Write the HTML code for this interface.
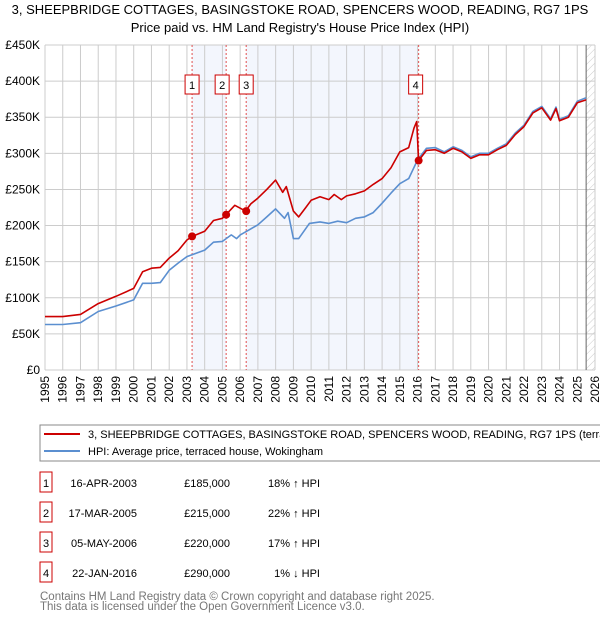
<!DOCTYPE html>
<html><head><meta charset="utf-8"><style>
body{margin:0;background:#fff}
svg{display:block;font-family:"Liberation Sans","DejaVu Sans",sans-serif}
</style></head><body>
<svg id="c" width="600" height="620" xmlns="http://www.w3.org/2000/svg">
<text x="300" y="14" text-anchor="middle" font-size="13">3, SHEEPBRIDGE COTTAGES, BASINGSTOKE ROAD, SPENCERS WOOD, READING, RG7 1PS</text>
<text x="300" y="32" text-anchor="middle" font-size="13">Price paid vs. HM Land Registry's House Price Index (HPI)</text>
<defs><pattern id="hatch" width="5" height="5" patternUnits="userSpaceOnUse" patternTransform="rotate(45)"><line x1="0" y1="0" x2="0" y2="5" stroke="#ccc" stroke-width="1"/></pattern></defs>
<g id="plot"></g>
<rect x="40" y="425" width="565" height="36" fill="#fff" stroke="#888"/>
<line x1="44" y1="434" x2="80" y2="434" stroke="#cc0000" stroke-width="2"/>
<text x="88" y="438" font-size="11">3, SHEEPBRIDGE COTTAGES, BASINGSTOKE ROAD, SPENCERS WOOD, READING, RG7 1PS (terraced house)</text>
<line x1="44" y1="451" x2="80" y2="451" stroke="#5b8fd0" stroke-width="2"/>
<text x="88" y="455" font-size="11">HPI: Average price, terraced house, Wokingham</text>
<g id="tbl" font-size="11"></g>
<text x="40" y="600" font-size="11.5" fill="#777">Contains HM Land Registry data © Crown copyright and database right 2025.</text>
<text x="40" y="610" font-size="11.5" fill="#777">This data is licensed under the Open Government Licence v3.0.</text>
</svg>
<script>
const hpiYears=[1995,1996,1997,1998,1999,2000,2000.5,2001,2001.5,2002,2002.5,2003,2003.5,2004,2004.5,2005,2005.5,2005.8,2006,2006.5,2007,2007.5,2008,2008.5,2008.7,2009,2009.3,2009.9,2010.5,2011,2011.5,2012,2012.5,2013,2013.5,2014,2014.5,2015,2015.5,2016,2016.5,2017,2017.5,2018,2018.5,2019,2019.5,2020,2020.5,2021,2021.5,2022,2022.5,2023,2023.5,2023.8,2024,2024.5,2025,2025.5];
const hpiValues=[63,63,65.5,81,88.6,97,120,120,121,138,148,157,161.5,166,177,178,187,182,187,194,201,212,223,210,218,182,182,203,205,203,206,204,210,212,218,231,245,258,265,291,307,308,302,309,304,295,300,300,307,313,328,339,358,365,348,364,347,352,372,377];
const propYears=[1995,1996,1997,1998,1999,2000,2000.5,2001,2001.5,2002,2002.5,2003,2003.3,2004,2004.5,2005,2005.2,2005.7,2006,2006.3,2006.6,2007,2007.5,2008,2008.4,2008.6,2009,2009.3,2009.7,2010,2010.5,2011,2011.3,2011.7,2012,2012.5,2013,2013.5,2014,2014.5,2015,2015.5,2015.8,2015.95,2016.06,2016.5,2017,2017.5,2018,2018.5,2019,2019.5,2020,2020.5,2021,2021.5,2022,2022.5,2023,2023.5,2023.8,2024,2024.5,2025,2025.5];
const propValues=[74,74,77,92,102,113,136,141,142,155,165,180,185,192,207,210,215,228,224,220,230,238,250,263,246,254,220,212,225,235,240,236,243,236,241,244,248,257,265,280,302,308,335,344,290,304,305,300,307,302,293,298,298,305,311,326,337,356,363,346,362,345,350,370,374];
const saleLabels=["1","2","3","4"];
const saleYears=[2003.29,2005.21,2006.34,2016.06];
const saleValues=[185,215,220,290];
const saleDates=["16-APR-2003","17-MAR-2005","05-MAY-2006","22-JAN-2016"];
const salePrices=["£185,000","£215,000","£220,000","£290,000"];
const saleDiffs=["18% ↑ HPI","22% ↑ HPI","17% ↑ HPI","1% ↓ HPI"];
const yTicks=[0,50,100,150,200,250,300,350,400,450];
const yTickLabels=["£0","£50K","£100K","£150K","£200K","£250K","£300K","£350K","£400K","£450K"];
const X0=45,X1=595,Y0=370,Y1=45;
const xs=y=>X0+(y-1995)*(X1-X0)/31;
const ys=v=>Y0-v*(Y0-Y1)/450;
const NS="http://www.w3.org/2000/svg";
const g=document.getElementById('plot');
function mk(tag,attrs,parent){const e=document.createElementNS(NS,tag);for(const k in attrs)e.setAttribute(k,attrs[k]);(parent||g).appendChild(e);return e;}
// shading
let e;
e=mk('rect',{x:xs(saleYears[0]),y:Y1,width:xs(saleYears[1])-xs(saleYears[0]),height:Y0-Y1,fill:'#eef2fc',opacity:0.7});


e=mk('rect',{x:xs(saleYears[2]),y:Y1,width:xs(saleYears[3])-xs(saleYears[2]),height:Y0-Y1,fill:'#eef2fc',opacity:0.7});


e=mk('rect',{x:xs(2025.5),y:Y1,width:X1-xs(2025.5),height:Y0-Y1,fill:'url(#hatch)'});


// grid
for(let yr=1995;yr<=2026;yr++){
  mk('line',{x1:xs(yr),y1:Y1,x2:xs(yr),y2:Y0,stroke:'#ccc','stroke-width':1});
  const t=mk('text',{x:0,y:0,'font-size':12,'text-anchor':'end',transform:`translate(${xs(yr)+4},${Y0+6}) rotate(-90)`});
  t.textContent=yr;
  
  
}
yTicks.forEach((v,i)=>{
  mk('line',{x1:X0,y1:ys(v),x2:X1,y2:ys(v),stroke:'#ccc','stroke-width':1});
  const t=mk('text',{x:X0-5,y:ys(v)+4,'font-size':12,'text-anchor':'end'});
  t.textContent=yTickLabels[i];
  
  
});
e=mk('line',{x1:xs(2025.5),y1:Y1,x2:xs(2025.5),y2:Y0,stroke:'#666','stroke-width':1});


// sale vlines & labels
saleYears.forEach((yr,i)=>{
  mk('line',{x1:xs(yr),y1:Y1,x2:xs(yr),y2:Y0,stroke:'#e05050','stroke-width':1,'stroke-dasharray':'2,2'});
  const bx=mk('rect',{x:xs(yr)-(i==3?10:7)-(i==1?4:0),y:75,width:14,height:19,fill:'#fff',stroke:'#cc0000'});
  
  
  const t=mk('text',{x:xs(yr)-(i==3?3:0)-(i==1?4:0),y:89,'font-size':11,'text-anchor':'middle'});
  t.textContent=saleLabels[i];
  
  
});
function path(xsArr,vals,color,name){
  const d=xsArr.map((y,i)=>(i?'L':'M')+xs(y).toFixed(1)+','+ys(vals[i]).toFixed(1)).join('');
  const p=mk('path',{d:d,fill:'none',stroke:color,'stroke-width':1.6,'stroke-linejoin':'round'});
  
  
}
path(hpiYears,hpiValues,'#5b8fd0','hpi-line');
path(propYears,propValues,'#cc0000','property-price-line');
saleYears.forEach((yr,i)=>{
  const c=mk('circle',{cx:xs(yr),cy:ys(saleValues[i]),r:4,fill:'#cc0000'});
  
  
});
// table
const tb=document.getElementById('tbl');
saleLabels.forEach((l,i)=>{
  const cy=483+i*30;
  const r=mk('rect',{x:40,y:cy-11,width:12,height:20,fill:'#fff',stroke:'#cc0000'},tb);
  
  
  const cols=[[46,l,'middle'],[137,saleDates[i],'end'],[230,salePrices[i],'end'],[320,saleDiffs[i],'end']];
  cols.forEach(([x,s,a],j)=>{
    const t=mk('text',{x:x,y:cy+4,'text-anchor':a},tb);
    t.textContent=s;
    
    
  });
});
</script>
</body></html>
